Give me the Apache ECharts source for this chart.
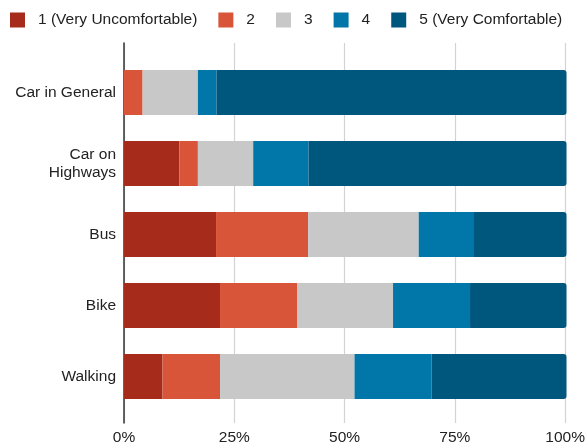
<!DOCTYPE html>
<html>
<head>
<meta charset="utf-8">
<script src="https://cdn.jsdelivr.net/npm/echarts@6/dist/echarts.min.js"></script>
<style>
html,body{margin:0;padding:0;background:#fff;}
#chart{width:588px;height:446px;}
</style>
</head>
<body>
<div id="chart"></div>
<script>
var categories = ['Car in General', 'Car on\nHighways', 'Bus', 'Bike', 'Walking'];
var seriesNames = ['1 (Very Uncomfortable)', '2', '3', '4', '5 (Very Comfortable)'];
var level1 = [0, 12.5, 20.8, 21.7, 8.7];
var level2 = [4.2, 4.2, 20.8, 17.4, 13.0];
var level3 = [12.5, 12.5, 25.0, 21.7, 30.4];
var level4 = [4.2, 12.5, 12.5, 17.4, 17.4];
var level5 = [79.1, 58.3, 20.9, 21.8, 30.5];
var tickValues = [0, 25, 50, 75, 100];
var colors = ['#a62b1a', '#d9553a', '#c8c8c8', '#0077a8', '#00577d'];

var allLevels = [level1, level2, level3, level4, level5];
var FONT = 'Liberation Sans, Arial, sans-serif';

var chart = echarts.init(document.getElementById('chart'), null, {renderer: 'canvas'});
var series = allLevels.map(function (vals, i) {
  return {
    name: seriesNames[i],
    type: 'bar',
    stack: 'total',
    xAxisIndex: 0,
    yAxisIndex: 0,
    barWidth: 45,
    data: vals,
    itemStyle: {
      color: colors[i],
      borderRadius: i === 4 ? [0, 3, 3, 0] : 0
    },
    emphasis: {disabled: true},
    animation: false
  };
});

chart.setOption({
  animation: false,
  color: colors,
  legend: {
    left: 5,
    top: 7,
    itemWidth: 15,
    itemHeight: 15,
    itemGap: 21,
    icon: 'rect',
    data: seriesNames,
    textStyle: {fontFamily: FONT, fontSize: 15.5, color: '#222', padding: [0, 0, 0, 8]}
  },
  grid: [
    {left: 124, right: 21.5, top: 57, height: 355, containLabel: false},
    {left: 124, right: 21.5, top: 43, height: 380, containLabel: false}
  ],
  xAxis: [
    {type: 'value', gridIndex: 0, min: 0, max: 100, show: false},
    {
      type: 'value', gridIndex: 1, min: tickValues[0], max: tickValues[tickValues.length - 1], interval: 25,
      axisLine: {show: false}, axisTick: {show: false},
      splitLine: {show: true, lineStyle: {color: '#d3d3d3', width: 1.2}},
      axisLabel: {formatter: '{value}%', fontFamily: FONT, fontSize: 15.5, color: '#222', margin: 7}
    }
  ],
  yAxis: [
    {
      type: 'category', gridIndex: 0, inverse: true, data: categories,
      axisLine: {show: false}, axisTick: {show: false},
      axisLabel: {fontFamily: FONT, fontSize: 15.5, color: '#222', margin: 8, lineHeight: 18.5, align: 'right'}
    },
    {
      type: 'value', gridIndex: 1, min: 0, max: 1,
      axisLine: {show: true, onZero: false, lineStyle: {color: '#333', width: 1.5}},
      axisTick: {show: false}, axisLabel: {show: false}, splitLine: {show: false}
    }
  ],
  series: series
});
</script>
</body>
</html>
